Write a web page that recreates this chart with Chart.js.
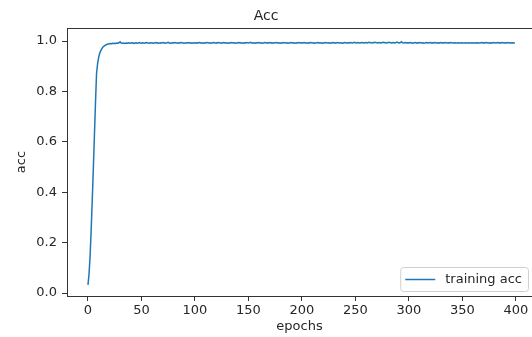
<!DOCTYPE html>
<html>
<head>
<meta charset="utf-8">
<title>Acc</title>
<script src="https://cdn.jsdelivr.net/npm/chart.js@4.4.1/dist/chart.umd.min.js"></script>
<style>
  html, body { margin: 0; padding: 0; background: #fff; }
  canvas { display: block; }
</style>
</head>
<body>
<canvas id="accChart" width="532" height="337"></canvas>
<script>
// Training accuracy per epoch
const trainingAcc = [
  0.032, 0.075, 0.148, 0.252, 0.368, 0.492, 0.621, 0.752, 0.870, 0.910,
  0.935, 0.952, 0.962, 0.970, 0.976, 0.980, 0.983, 0.985, 0.987, 0.988,
  0.989, 0.990, 0.989, 0.991, 0.990, 0.991, 0.990, 0.992, 0.991, 0.993,
  0.997, 0.992, 0.991, 0.992, 0.990, 0.991, 0.992, 0.991, 0.993, 0.992,
  0.991, 0.993, 0.992, 0.990, 0.992, 0.993, 0.991, 0.992, 0.994, 0.992,
  0.991, 0.993, 0.992, 0.991, 0.993, 0.994, 0.992, 0.991, 0.993, 0.992,
  0.993, 0.991, 0.992, 0.994, 0.992, 0.993, 0.991, 0.992, 0.993, 0.992,
  0.994, 0.993, 0.991, 0.992, 0.993, 0.995, 0.992, 0.991, 0.992, 0.993,
  0.992, 0.994, 0.993, 0.992, 0.991, 0.993, 0.992, 0.994, 0.993, 0.992,
  0.991, 0.992, 0.993, 0.992, 0.994, 0.992, 0.993, 0.991, 0.992, 0.993,
  0.992, 0.993, 0.991, 0.993, 0.994, 0.992, 0.993, 0.992, 0.991, 0.993,
  0.992, 0.994, 0.993, 0.992, 0.993, 0.991, 0.992, 0.994, 0.993, 0.992,
  0.993, 0.992, 0.994, 0.993, 0.992, 0.991, 0.993, 0.994, 0.992, 0.993,
  0.992, 0.991, 0.993, 0.992, 0.994, 0.993, 0.992, 0.993, 0.991, 0.992,
  0.993, 0.994, 0.992, 0.993, 0.992, 0.991, 0.993, 0.992, 0.994, 0.993,
  0.992, 0.993, 0.995, 0.992, 0.993, 0.992, 0.991, 0.993, 0.992, 0.994,
  0.993, 0.992, 0.993, 0.991, 0.992, 0.994, 0.993, 0.992, 0.993, 0.992,
  0.994, 0.993, 0.991, 0.993, 0.992, 0.993, 0.994, 0.992, 0.993, 0.992,
  0.991, 0.993, 0.992, 0.994, 0.993, 0.992, 0.993, 0.991, 0.992, 0.993,
  0.994, 0.992, 0.993, 0.992, 0.991, 0.993, 0.992, 0.994, 0.993, 0.992,
  0.993, 0.992, 0.994, 0.993, 0.991, 0.992, 0.993, 0.992, 0.994, 0.993,
  0.992, 0.993, 0.991, 0.992, 0.993, 0.994, 0.992, 0.993, 0.992, 0.991,
  0.993, 0.992, 0.994, 0.993, 0.992, 0.993, 0.992, 0.991, 0.993, 0.994,
  0.992, 0.993, 0.992, 0.994, 0.993, 0.992, 0.993, 0.992, 0.991, 0.993,
  0.994, 0.993, 0.992, 0.993, 0.992, 0.994, 0.993, 0.992, 0.993, 0.995,
  0.993, 0.992, 0.994, 0.993, 0.992, 0.993, 0.994, 0.993, 0.992, 0.994,
  0.993, 0.992, 0.994, 0.995, 0.993, 0.992, 0.994, 0.993, 0.995, 0.994,
  0.993, 0.992, 0.994, 0.993, 0.992, 0.994, 0.995, 0.993, 0.994, 0.992,
  0.993, 0.995, 0.994, 0.993, 0.992, 0.994, 0.993, 0.992, 0.994, 0.996,
  0.993, 0.992, 0.994, 0.997, 0.993, 0.992, 0.993, 0.994, 0.992, 0.993,
  0.992, 0.994, 0.993, 0.991, 0.992, 0.993, 0.994, 0.992, 0.993, 0.992,
  0.994, 0.993, 0.992, 0.993, 0.991, 0.992, 0.994, 0.993, 0.992, 0.993,
  0.994, 0.992, 0.993, 0.992, 0.994, 0.993, 0.992, 0.993, 0.991, 0.993,
  0.994, 0.992, 0.993, 0.992, 0.994, 0.993, 0.992, 0.993, 0.992, 0.994,
  0.993, 0.992, 0.992, 0.993, 0.992, 0.992, 0.993, 0.992, 0.992, 0.993,
  0.992, 0.992, 0.992, 0.993, 0.992, 0.992, 0.993, 0.992, 0.992, 0.993,
  0.992, 0.992, 0.993, 0.992, 0.993, 0.992, 0.992, 0.993, 0.994, 0.992,
  0.993, 0.992, 0.994, 0.993, 0.992, 0.993, 0.991, 0.993, 0.992, 0.994,
  0.993, 0.992, 0.993, 0.994, 0.992, 0.993, 0.992, 0.994, 0.993, 0.992,
  0.993, 0.992, 0.994, 0.993, 0.992, 0.993, 0.992, 0.993, 0.992, 0.993
];
const epochs = trainingAcc.map((_, i) => i);

const xTicks = [0, 50, 100, 150, 200, 250, 300, 350, 400];
const yTicks = [0.0, 0.2, 0.4, 0.6, 0.8, 1.0];

const FONT = 'DejaVu Sans';
const TEXT = '#262626';
const AXIS = '#333333';
const LINE = '#1f77b4';

// top spine + legend box in the lower right corner
const framePlugin = {
    id: 'frame',
    afterDatasetsDraw(chart) {
        const { ctx, chartArea } = chart;
        ctx.save();
        ctx.strokeStyle = AXIS;
        ctx.lineWidth = 1;
        ctx.beginPath();
        ctx.moveTo(chartArea.left, chartArea.top + 0.5);
        ctx.lineTo(chartArea.right, chartArea.top + 0.5);
        ctx.stroke();

        const label = chart.data.datasets[0].label;
        ctx.font = '13px "' + FONT + '"';
        const textW = ctx.measureText(label).width;
        const boxW = 5 + 30 + 10 + textW + 6;
        const boxH = 24;
        const right = chartArea.right - 4;
        const bottom = chartArea.bottom - 5;
        const left = right - boxW;
        const top = bottom - boxH;

        ctx.fillStyle = 'rgba(255,255,255,0.85)';
        ctx.strokeStyle = '#d0d0d0';
        ctx.beginPath();
        ctx.roundRect(left + 0.5, top + 0.5, boxW, boxH, 3);
        ctx.fill();
        ctx.stroke();

        const midY = top + boxH / 2 + 0.5;
        ctx.strokeStyle = LINE;
        ctx.lineWidth = 1.5;
        ctx.beginPath();
        ctx.moveTo(left + 5, midY);
        ctx.lineTo(left + 35, midY);
        ctx.stroke();

        ctx.fillStyle = TEXT;
        ctx.textBaseline = 'middle';
        ctx.textAlign = 'left';
        ctx.fillText(label, left + 45, midY);
        ctx.restore();
    }
};

new Chart(document.getElementById('accChart'), {
    type: 'line',
    data: {
        datasets: [{
            label: 'training acc',
            data: epochs.map((e, i) => ({ x: e, y: trainingAcc[i] })),
            borderColor: LINE,
            borderWidth: 1.5,
            pointRadius: 0,
            tension: 0,
            fill: false
        }]
    },
    options: {
        responsive: false,
        animation: false,
        devicePixelRatio: 1,
        layout: { padding: 0 },
        plugins: {
            legend: { display: false },
            tooltip: { enabled: false },
            title: {
                display: true,
                text: 'Acc',
                color: TEXT,
                font: { family: FONT, size: 14, weight: 'normal', lineHeight: 1.2 },
                padding: { top: 7.6, bottom: 3.6 }
            }
        },
        scales: {
            x: {
                type: 'linear',
                min: -19.6,
                max: 415,
                afterBuildTicks: s => { s.ticks = xTicks.map(v => ({ value: v })); },
                afterFit: s => { s.height = 41; },
                grid: { drawOnChartArea: false, drawTicks: true, tickLength: 5, color: AXIS },
                border: { display: true, color: AXIS },
                ticks: {
                    color: TEXT,
                    padding: 2,
                    maxRotation: 0,
                    font: { family: FONT, size: 13 },
                    callback: v => String(v)
                },
                title: {
                    display: true,
                    text: 'epochs',
                    color: TEXT,
                    font: { family: FONT, size: 13 },
                    padding: { top: 0, bottom: 3 }
                }
            },
            y: {
                min: -0.0119,
                max: 1.0516,
                afterBuildTicks: s => { s.ticks = yTicks.map(v => ({ value: v })); },
                afterFit: s => { s.width = 67; },
                grid: { drawOnChartArea: false, drawTicks: true, tickLength: 5, color: AXIS },
                border: { display: true, color: AXIS },
                ticks: {
                    color: TEXT,
                    padding: 5,
                    font: { family: FONT, size: 13 },
                    callback: v => Number(v).toFixed(1)
                },
                title: {
                    display: true,
                    text: 'acc',
                    color: TEXT,
                    font: { family: FONT, size: 13 },
                    padding: { top: 14, bottom: 0 }
                }
            }
        }
    },
    plugins: [framePlugin]
});
</script>
</body>
</html>
